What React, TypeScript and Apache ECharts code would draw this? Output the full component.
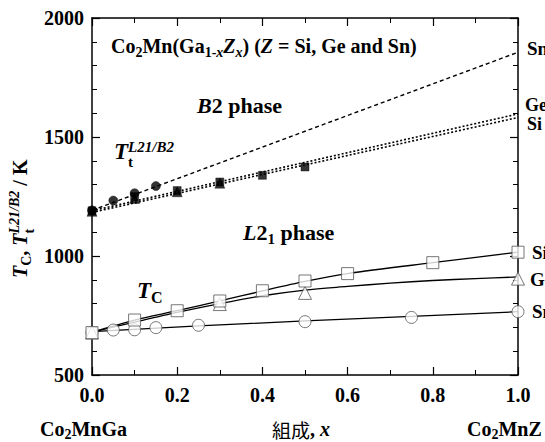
import React, { useEffect, useRef } from "react";
import * as echarts from "echarts";

// ---- data ----
// Curie temperature T_C (open markers)
const tcSiX = [0, 0.1, 0.2, 0.3, 0.4, 0.5, 0.6, 0.8, 1.0];
const tcSiY = [678, 731, 770, 811, 854, 895, 926, 972, 1016];
const tcGeX = [0, 0.3, 0.5, 1.0];
const tcGeY = [678, 798, 845, 905];
const tcSnX = [0, 0.05, 0.1, 0.15, 0.25, 0.5, 0.75, 1.0];
const tcSnY = [678, 689, 690, 699, 709, 724, 742, 766];
// fitted T_C curves
const fitSiX = [0, 0.1, 0.2, 0.3, 0.4, 0.5, 0.6, 0.8, 1.0];
const fitSiY = [680, 731, 770, 811, 853, 893, 926, 972, 1016];
const fitGeX = [0, 0.1, 0.2, 0.3, 0.4, 0.5, 0.6, 0.7, 0.8, 0.9, 1.0];
const fitGeY = [680, 722, 763, 800, 833, 857, 872, 886, 897, 905, 912];
const fitSnX = [0, 0.25, 0.5, 0.75, 1.0];
const fitSnY = [682, 706, 727, 746, 766];
// order-disorder transition T_t^{L21/B2} (filled markers)
const ttSnX = [0, 0.05, 0.1, 0.15];
const ttSnY = [1192, 1233, 1264, 1294];
const ttSiX = [0, 0.1, 0.2, 0.3, 0.4, 0.5];
const ttSiY = [1190, 1250, 1275, 1311, 1339, 1374];
const ttGeX = [0, 0.1, 0.2, 0.3];
const ttGeY = [1188, 1242, 1270, 1306];
// extrapolated T_t lines
const lineSnX = [0, 1.0];
const lineSnY = [1192, 1856];
const lineGeX = [0, 1.0];
const lineGeY = [1190, 1597];
const lineSiX = [0, 1.0];
const lineSiY = [1183, 1582];

const xTickLabels = ["0.0", "0.2", "0.4", "0.6", "0.8", "1.0"];
const yTickLabels = ["500", "1000", "1500", "2000"];

const pairs = (xs: number[], ys: number[]) => xs.map((x, i) => [x, ys[i]]);

const FAM = "Liberation Serif";
const CJK = "Noto Sans CJK JP";

type Seg = {
  t: string;
  size: number;
  italic?: boolean;
  bold?: boolean;
  dy?: number;
  stack?: boolean;
  family?: string;
};

let ctx: CanvasRenderingContext2D | null = null;
const fontOf = (s: Seg) =>
  `${s.italic ? "italic " : ""}${s.bold === false ? "normal" : "bold"} ${s.size}px ${s.family ?? FAM}`;
const measure = (s: Seg) => {
  if (!ctx) ctx = document.createElement("canvas").getContext("2d");
  if (!ctx) return s.t.length * s.size * 0.5;
  ctx.font = fontOf(s);
  return ctx.measureText(s.t).width;
};

function richGroup(x: number, y: number, segs: Seg[], rotation = 0) {
  let cx = 0;
  const children = segs.map((s) => {
    const el = {
      type: "text",
      x: cx,
      y: s.dy ?? 0,
      silent: true,
      style: {
        text: s.t,
        font: fontOf(s),
        fill: "#000",
        align: "left",
        verticalAlign: "middle",
      },
    };
    if (!s.stack) cx += measure(s);
    return el;
  });
  return { type: "group", x, y, rotation, children };
}

export default function App() {
  const ref = useRef<HTMLDivElement>(null);
  useEffect(() => {
    if (!ref.current) return;
    const chart = echarts.init(ref.current, undefined, { renderer: "svg" });

    const axisLine = { show: true, onZero: false, lineStyle: { color: "#000", width: 1.5 } };
    const axisTick = { show: true, inside: true, length: 8, lineStyle: { color: "#000", width: 1.2 } };
    const labelStyle = { fontFamily: FAM, fontWeight: "bold" as const, fontSize: 20, color: "#000" };

    const lineSeries = (xs: number[], ys: number[], type: any, width: number, smooth: number | boolean = false) => ({
      type: "line",
      data: pairs(xs, ys),
      symbol: "none",
      smooth,
      silent: true,
      z: 2,
      lineStyle: { color: "#000", width, type },
    });
    const scatter = (xs: number[], ys: number[], symbol: string, size: number, filled: boolean) => ({
      type: "scatter",
      data: pairs(xs, ys),
      symbol,
      symbolSize: size,
      silent: true,
      z: 5,
      itemStyle: filled
        ? { color: "#000", borderColor: "#000", borderWidth: 0.5 }
        : { color: "#fff", borderColor: "#555", borderWidth: 1 },
    });

    const option: any = {
      animation: false,
      backgroundColor: "#fff",
      textStyle: { fontFamily: FAM },
      grid: { left: 92, right: 27, top: 18, bottom: 67, containLabel: false },
      xAxis: [
        {
          type: "value",
          min: 0,
          max: 1,
          interval: 0.2,
          position: "bottom",
          axisLine,
          axisTick,
          minorTick: { show: true, splitNumber: 2, length: 5, lineStyle: { color: "#000", width: 1 } },
          splitLine: { show: false },
          axisLabel: {
            ...labelStyle,
            margin: 10,
            formatter: (v: number) => xTickLabels[Math.round(v / 0.2)] ?? "",
          },
        },
        {
          type: "value",
          min: 0,
          max: 1,
          interval: 0.2,
          position: "top",
          axisLine,
          axisTick,
          minorTick: { show: true, splitNumber: 2, length: 5, lineStyle: { color: "#000", width: 1 } },
          splitLine: { show: false },
          axisLabel: { show: false },
        },
      ],
      yAxis: [
        {
          type: "value",
          min: 500,
          max: 2000,
          interval: 500,
          position: "left",
          axisLine,
          axisTick,
          minorTick: { show: true, splitNumber: 5, length: 5, lineStyle: { color: "#000", width: 1 } },
          splitLine: { show: false },
          axisLabel: {
            ...labelStyle,
            margin: 8,
            formatter: (v: number) => yTickLabels[Math.round((v - 500) / 500)] ?? "",
          },
        },
        {
          type: "value",
          min: 500,
          max: 2000,
          interval: 500,
          position: "right",
          axisLine,
          axisTick,
          minorTick: { show: true, splitNumber: 5, length: 5, lineStyle: { color: "#000", width: 1 } },
          splitLine: { show: false },
          axisLabel: { show: false },
        },
      ],
      series: [
        lineSeries(lineSnX, lineSnY, [4, 3], 1.4),
        lineSeries(lineGeX, lineGeY, [2, 2], 1.6),
        lineSeries(lineSiX, lineSiY, [2, 2], 1.6),
        lineSeries(fitSiX, fitSiY, "solid", 1.3, 0.3),
        lineSeries(fitGeX, fitGeY, "solid", 1.3, 0.3),
        lineSeries(fitSnX, fitSnY, "solid", 1.3, 0.3),
        scatter(tcSnX, tcSnY, "circle", 12, false),
        scatter(tcGeX, tcGeY, "triangle", 13, false),
        scatter(tcSiX, tcSiY, "rect", 12, false),
        scatter(ttGeX, ttGeY, "triangle", 10, true),
        scatter(ttSiX, ttSiY, "rect", 8, true),
        scatter(ttSnX, ttSnY, "circle", 9, true),
      ],
      graphic: [
        // title annotation
        richGroup(111, 46, [
          { t: "Co", size: 20 },
          { t: "2", size: 14, dy: 6 },
          { t: "Mn(Ga", size: 20 },
          { t: "1-", size: 14, dy: 6 },
          { t: "x", size: 14, dy: 6, italic: true },
          { t: "Z", size: 20, italic: true },
          { t: "x", size: 14, dy: 6, italic: true },
          { t: ") (", size: 20 },
          { t: "Z", size: 20, italic: true },
          { t: " = Si, Ge and Sn)", size: 20 },
        ]),
        richGroup(197, 105, [
          { t: "B", size: 22, italic: true },
          { t: "2 phase", size: 22 },
        ]),
        richGroup(243, 232, [
          { t: "L", size: 22, italic: true },
          { t: "2", size: 22 },
          { t: "1", size: 15, dy: 7 },
          { t: " phase", size: 22 },
        ]),
        richGroup(114, 151, [
          { t: "T", size: 23, italic: true },
          { t: "t", size: 15, dy: 11, stack: true },
          { t: "L21/B2", size: 15, italic: true, dy: -4 },
        ]),
        richGroup(137, 290, [
          { t: "T", size: 23, italic: true },
          { t: "C", size: 16, dy: 7 },
        ]),
        // y-axis title, rotated
        richGroup(20, 278, [
          { t: "T", size: 20, italic: true },
          { t: "C", size: 14, dy: 6 },
          { t: ", ", size: 20 },
          { t: "T", size: 20, italic: true },
          { t: "t", size: 14, dy: 9, stack: true },
          { t: "L21/B2", size: 14, italic: true, dy: -6 },
          { t: " / K", size: 20 },
        ], Math.PI / 2),
        // right-hand labels
        richGroup(527, 48, [{ t: "Sn", size: 19 }]),
        richGroup(525, 105, [{ t: "Ge", size: 18 }]),
        richGroup(527, 124, [{ t: "Si", size: 18 }]),
        richGroup(532, 252, [{ t: "Si", size: 19 }]),
        richGroup(530, 279, [{ t: "Ge", size: 19 }]),
        richGroup(532, 311, [{ t: "Sn", size: 19 }]),
        // bottom labels
        richGroup(40, 429, [
          { t: "Co", size: 20 },
          { t: "2", size: 14, dy: 5 },
          { t: "MnGa", size: 20 },
        ]),
        richGroup(272, 429, [
          { t: "組成", size: 19, bold: false, family: CJK },
          { t: ", ", size: 20 },
          { t: "x", size: 20, italic: true },
        ]),
        richGroup(467, 429, [
          { t: "Co", size: 20 },
          { t: "2", size: 14, dy: 5 },
          { t: "MnZ", size: 20 },
        ]),
      ],
    };
    chart.setOption(option);
    return () => chart.dispose();
  }, []);
  return <div ref={ref} style={{ width: 545, height: 442, position: "absolute", left: 0, top: 0, background: "#fff" }} />;
}
